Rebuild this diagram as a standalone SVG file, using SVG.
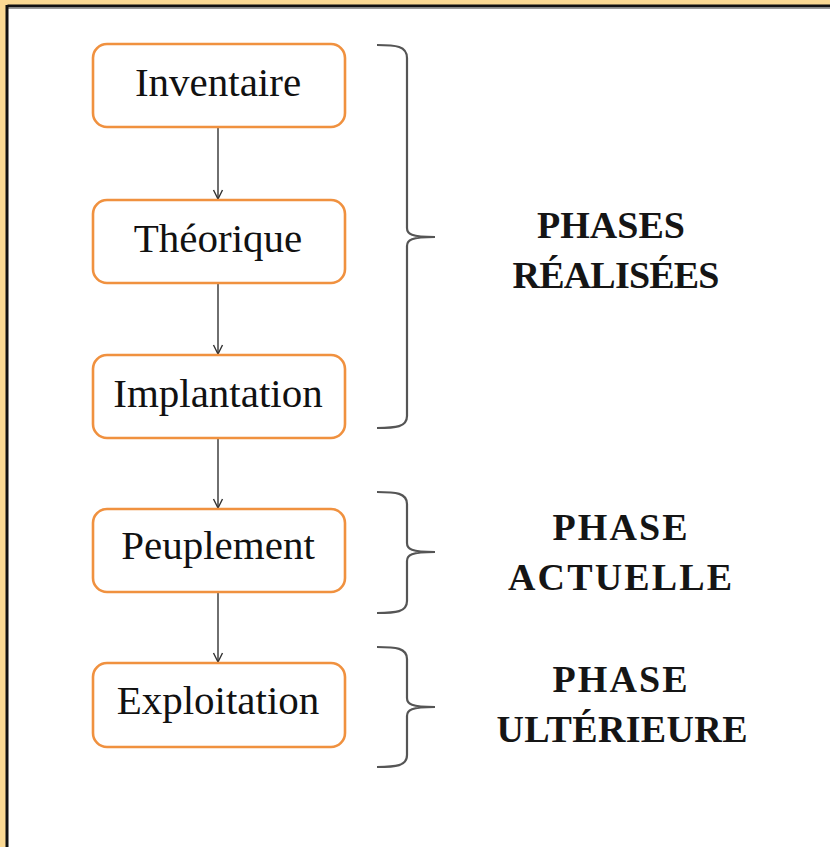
<svg xmlns="http://www.w3.org/2000/svg" width="830" height="847" viewBox="0 0 830 847">
<style>
.box{fill:#fff;stroke:#f0913f;stroke-width:2.6}
.lbl{font-family:"Liberation Serif","Times New Roman",serif;font-size:41px;fill:#111;text-anchor:middle}
.ph{font-family:"Liberation Serif","Times New Roman",serif;font-size:38px;font-weight:bold;fill:#151515;text-anchor:middle}
.con{stroke:#333;stroke-width:1.4;fill:none}
.brace{stroke:#555;stroke-width:2.2;fill:none}
</style>
<defs>
<marker id="ah" markerWidth="12" markerHeight="12" refX="10" refY="6" orient="auto" markerUnits="userSpaceOnUse" viewBox="0 0 12 12">
<path d="M1,1.5 L10,6 L1,10.5" fill="none" stroke="#333" stroke-width="1.4"/>
</marker>
</defs>
<rect x="0" y="0" width="830" height="847" fill="#fbd993"/>
<rect x="7" y="7" width="823" height="840" fill="#fff"/>
<line x1="7.5" y1="6" x2="830" y2="6" stroke="#111" stroke-width="3"/>
<line x1="7.5" y1="8.5" x2="830" y2="8.5" stroke="#999" stroke-width="1"/>
<line x1="7" y1="5" x2="7" y2="847" stroke="#111" stroke-width="3"/>
<g id="connectors">
<line class="con" x1="218" y1="128" x2="218" y2="199" marker-end="url(#ah)"/>
<line class="con" x1="218" y1="284" x2="218" y2="354" marker-end="url(#ah)"/>
<line class="con" x1="218" y1="439" x2="218" y2="508" marker-end="url(#ah)"/>
<line class="con" x1="218" y1="593" x2="218" y2="662" marker-end="url(#ah)"/>
</g>
<g id="inventaire"><rect class="box" x="93" y="44" width="252" height="83" rx="14"/><text class="lbl" x="218" y="96">Inventaire</text></g>
<g id="theorique"><rect class="box" x="93" y="200" width="252" height="83" rx="14"/><text class="lbl" x="218" y="252">Théorique</text></g>
<g id="implantation"><rect class="box" x="93" y="355" width="252" height="83" rx="14"/><text class="lbl" x="218" y="407">Implantation</text></g>
<g id="peuplement"><rect class="box" x="93" y="509" width="252" height="83" rx="14"/><text class="lbl" x="218" y="559">Peuplement</text></g>
<g id="exploitation"><rect class="box" x="93" y="663" width="252" height="84" rx="14"/><text class="lbl" x="218" y="714">Exploitation</text></g>
<g id="brace-realisees">
<path class="brace" d="M377,45 C396,45 407,46 407,58 L407,228 C407,234 411,237 435,237 C411,237 407,240 407,246 L407,416 C407,427 396,428 377,428"/>
<text class="ph" x="611" y="238" textLength="148" lengthAdjust="spacing">PHASES</text>
<text class="ph" x="616" y="288" textLength="207" lengthAdjust="spacing">RÉALISÉES</text>
</g>
<g id="brace-actuelle">
<path class="brace" d="M377,492 C396,492 407,493 407,504 L407,543 C407,549 411,552 435,552 C411,552 407,555 407,561 L407,601 C407,612 396,613 377,613"/>
<text class="ph" x="620" y="540" textLength="135" lengthAdjust="spacing">PHASE</text>
<text class="ph" x="620" y="590" textLength="224" lengthAdjust="spacing">ACTUELLE</text>
</g>
<g id="brace-ulterieure">
<path class="brace" d="M377,647 C396,647 407,648 407,659 L407,698 C407,704 411,707 435,707 C411,707 407,710 407,716 L407,755 C407,766 396,767 377,767"/>
<text class="ph" x="620" y="692" textLength="135" lengthAdjust="spacing">PHASE</text>
<text class="ph" x="622" y="742" textLength="251" lengthAdjust="spacing">ULTÉRIEURE</text>
</g>
</svg>
